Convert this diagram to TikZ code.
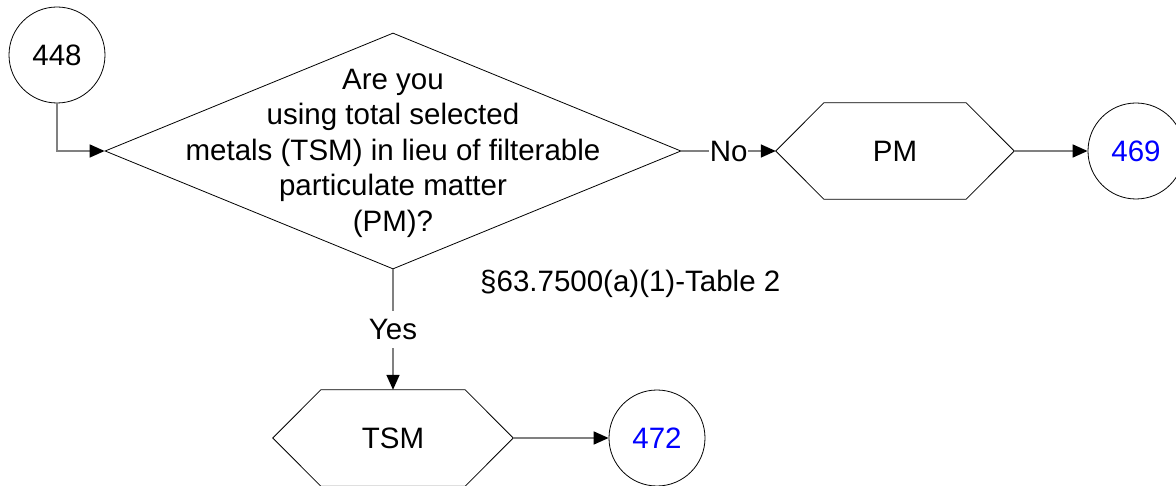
\documentclass[tikz,border=0pt]{standalone}
\usepackage{fontspec}
\setmainfont{Liberation Sans}
\usetikzlibrary{shapes.geometric,arrows.meta}
\begin{document}
\begin{tikzpicture}[x=1pt,y=-1pt,
  font=\fontsize{29.5}{35.5}\selectfont,
  conn/.style={draw=black!50, line width=1.6pt, -{Triangle[length=15pt,width=13pt,color=black]}},
  circ/.style={circle, draw=black, line width=0.8pt, minimum size=96pt, inner sep=0pt},
  hexbox/.style={rectangle, minimum height=96pt, inner sep=0pt},
  lbl/.style={fill=white, inner xsep=1pt, inner ysep=8pt},
  ref/.style={text=blue}]
\useasboundingbox (0,0) rectangle (1176,486);

% nodes
\node[circ] (c448) at (57,55) {448};
\node[diamond, draw=black, line width=0.8pt, minimum width=576pt, minimum height=236pt, inner sep=0pt] (q) at (393,151) {};
\node[align=center, inner sep=0pt] (qt) at (393,153) {Are you\\using total selected\\metals (TSM) in lieu of filterable\\particulate matter\\(PM)?};
\node[hexbox, minimum width=238pt] (pm) at (895,151) {PM};
\node[hexbox, minimum width=240pt] (tsm) at (393,438) {TSM};
\node[circ, ref] (c469) at (1136,151) {469};
\node[circ, ref] (c472) at (657,438) {472};
\node[anchor=west, inner sep=0pt] (sec) at (480,284) {§63.7500(a)(1)-Table 2};

% hexagon outlines
\foreach \h in {pm,tsm}{
  \draw[black, line width=0.8pt] (\h.west) -- ([xshift=48pt]\h.north west) -- ([xshift=-48pt]\h.north east) -- (\h.east) -- ([xshift=-48pt]\h.south east) -- ([xshift=48pt]\h.south west) -- cycle;
}

% connectors
\draw[conn] (c448.south) |- (q.west);
\draw[conn] (q.east) -- node[lbl] (no) {No} (pm.west);
\draw[conn] (q.south) -- node[lbl] (yes) {Yes} (tsm.north);
\draw[conn] (pm.east) -- (c469.west);
\draw[conn] (tsm.east) -- (c472.west);
\end{tikzpicture}
\end{document}
